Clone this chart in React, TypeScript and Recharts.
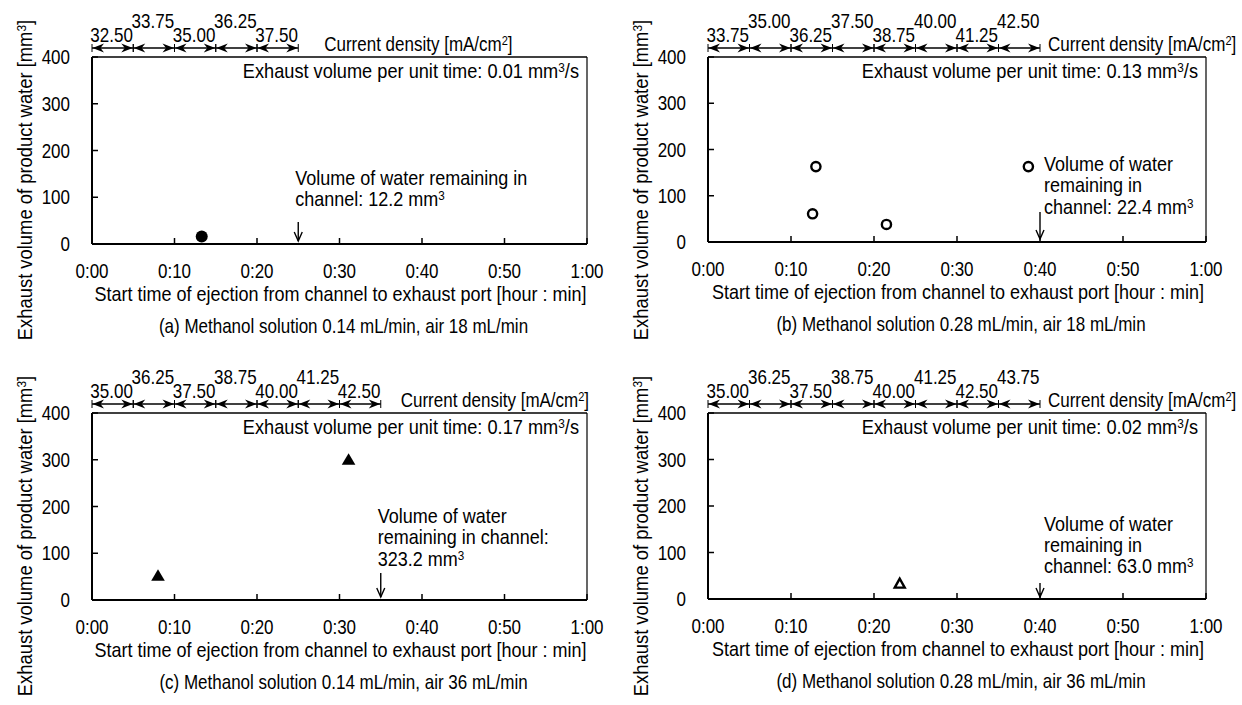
import React from 'react';
import { ScatterChart, Scatter, XAxis, YAxis, ReferenceLine, ReferenceDot } from 'recharts';

// ---------------- data ----------------
const TIME_TICKS = [0, 10, 20, 30, 40, 50, 60]; // minutes
const VOLUME_TICKS = [0, 100, 200, 300, 400];
const DENSITY_STEP_MIN = 5;

const A_TIME = [13.3];
const A_VOLUME = [16];
const B_TIME = [12.6, 13.0, 21.5, 38.6];
const B_VOLUME = [61, 163, 38, 163];
const C_TIME = [8.0, 31.1];
const C_VOLUME = [52, 300];
const D_TIME = [23.1];
const D_VOLUME = [33];

const A_DENSITY = ['32.50', '33.75', '35.00', '36.25', '37.50'];
const B_DENSITY = ['33.75', '35.00', '36.25', '37.50', '38.75', '40.00', '41.25', '42.50'];
const C_DENSITY = ['35.00', '36.25', '37.50', '38.75', '40.00', '41.25', '42.50'];
const D_DENSITY = ['35.00', '36.25', '37.50', '38.75', '40.00', '41.25', '42.50', '43.75'];

const EXHAUST_RATE = ['0.01', '0.13', '0.17', '0.02'];
const REMAIN_VOLUME = ['12.2', '22.4', '323.2', '63.0'];
const REMAIN_TIME = [25, 40, 35, 40];
const CAPTIONS = [
  '(a) Methanol solution 0.14 mL/min, air 18 mL/min',
  '(b) Methanol solution 0.28 mL/min, air 18 mL/min',
  '(c) Methanol solution 0.14 mL/min, air 36 mL/min',
  '(d) Methanol solution 0.28 mL/min, air 36 mL/min',
];
const REMAIN_LINES = [
  ['Volume of water remaining in', 'channel: {v} mm'],
  ['Volume of water', 'remaining in', 'channel: {v} mm'],
  ['Volume of water', 'remaining in channel:', '{v} mm'],
  ['Volume of water', 'remaining in', 'channel: {v} mm'],
];
const X_TITLE = 'Start time of ejection from channel to exhaust port [hour : min]';
const Y_TITLE = 'Exhaust volume of product water [mm';

// ---------------- styles ----------------
const FONT = '"Liberation Sans", Arial, Helvetica, sans-serif';
const FS = 20;
const SX = 0.85;
const Y_AXIS_W = 92;
const X_AXIS_H = 30;
const RIGHT_PAD = 30;

const fmtTime = (m: number) => `${Math.floor(m / 60)}:${String(Math.round(m % 60)).padStart(2, '0')}`;

function NText({ x, y, anchor = 'start', size = FS, sx = SX, rotate = 0, children }: any) {
  const t = `translate(${x},${y})${rotate ? ` rotate(${rotate})` : ''} scale(${sx},1)`;
  return (
    <text transform={t} x={0} y={0} textAnchor={anchor} fontSize={size} fontFamily={FONT} fill="#000">
      {children}
    </text>
  );
}

const filledCircle = (p: any) => <circle cx={p.cx} cy={p.cy} r={6} fill="#000" />;
const openCircle = (p: any) => (
  <circle cx={p.cx} cy={p.cy} r={4.6} fill="#fff" stroke="#000" strokeWidth={2.4} />
);
const filledTriangle = (p: any) => (
  <polygon
    points={`${p.cx},${p.cy - 6.5} ${p.cx - 6.8},${p.cy + 5} ${p.cx + 6.8},${p.cy + 5}`}
    fill="#000"
  />
);
const openTriangle = (p: any) => (
  <polygon
    points={`${p.cx},${p.cy - 5} ${p.cx - 5},${p.cy + 4} ${p.cx + 5},${p.cy + 4}`}
    fill="#fff"
    stroke="#000"
    strokeWidth={2.4}
    strokeLinejoin="miter"
  />
);

const PANELS = [
  {
    time: A_TIME, volume: A_VOLUME, density: A_DENSITY, marker: filledCircle,
    rate: EXHAUST_RATE[0], remain: REMAIN_VOLUME[0], remainTime: REMAIN_TIME[0], lines: REMAIN_LINES[0], caption: CAPTIONS[0],
    layout: { plotLeft: 92, plotRight: 587, plotTop: 57, plotBottom: 244, rowTop: 0, rowHeight: 352,
      densityGap: 26, remainDx: -3, baselines: [-59, -38], arrowTop: -22, arrowTip: -3 },
  },
  {
    time: B_TIME, volume: B_VOLUME, density: B_DENSITY, marker: openCircle,
    rate: EXHAUST_RATE[1], remain: REMAIN_VOLUME[1], remainTime: REMAIN_TIME[1], lines: REMAIN_LINES[1], caption: CAPTIONS[1],
    layout: { plotLeft: 708, plotRight: 1206, plotTop: 57, plotBottom: 242, rowTop: 0, rowHeight: 352,
      densityGap: 8, remainDx: 4, baselines: [-71, -50, -28], arrowTop: -30, arrowTip: -3 },
  },
  {
    time: C_TIME, volume: C_VOLUME, density: C_DENSITY, marker: filledTriangle,
    rate: EXHAUST_RATE[2], remain: REMAIN_VOLUME[2], remainTime: REMAIN_TIME[2], lines: REMAIN_LINES[2], caption: CAPTIONS[2],
    layout: { plotLeft: 92, plotRight: 587, plotTop: 413, plotBottom: 600, rowTop: 352, rowHeight: 353,
      densityGap: 20, remainDx: -3, baselines: [-77, -56, -34], arrowTop: -27, arrowTip: -3 },
  },
  {
    time: D_TIME, volume: D_VOLUME, density: D_DENSITY, marker: openTriangle,
    rate: EXHAUST_RATE[3], remain: REMAIN_VOLUME[3], remainTime: REMAIN_TIME[3], lines: REMAIN_LINES[3], caption: CAPTIONS[3],
    layout: { plotLeft: 708, plotRight: 1206, plotTop: 413, plotBottom: 599, rowTop: 352, rowHeight: 353,
      densityGap: 8, remainDx: 4, baselines: [-68, -47, -26], arrowTop: -16, arrowTip: -2 },
  },
];

function DensitySeg({ x1, y1, x2, label, high }: any) {
  const y = y1 - 9;
  const h = 12;
  const w = 4.5;
  return (
    <g>
      <line x1={x1} y1={y} x2={x2} y2={y} stroke="#000" strokeWidth={1.5} />
      <polygon points={`${x1 + 0.5},${y} ${x1 + h},${y - w} ${x1 + h - 3.5},${y} ${x1 + h},${y + w}`} fill="#000" />
      <polygon points={`${x2 - 0.5},${y} ${x2 - h},${y - w} ${x2 - h + 3.5},${y} ${x2 - h},${y + w}`} fill="#000" />
      <line x1={x1} y1={y - 4} x2={x1} y2={y + 4} stroke="#000" strokeWidth={1} />
      <line x1={x2} y1={y - 4} x2={x2} y2={y + 4} stroke="#000" strokeWidth={1} />
      <NText x={(x1 + x2) / 2 - 1} y={high ? y1 - 29 : y1 - 15} anchor="middle">
        {label}
      </NText>
    </g>
  );
}

function Panel({ cfg }: any) {
  const L = cfg.layout;
  const chartLeft = L.plotLeft - Y_AXIS_W;
  const width = L.plotRight - chartLeft + RIGHT_PAD;
  const margin = {
    top: L.plotTop - L.rowTop,
    right: RIGHT_PAD,
    left: 0,
    bottom: L.rowTop + L.rowHeight - L.plotBottom - X_AXIS_H,
  };
  const data = cfg.time.map((t: number, i: number) => ({ x: t, y: cfg.volume[i] }));
  const lastBoundary = cfg.density.length * DENSITY_STEP_MIN;

  const XTick = (p: any) => (
    <NText x={p.x} y={p.y} anchor="middle">
      {fmtTime(p.payload.value)}
    </NText>
  );
  const YTick = (p: any) => (
    <NText x={p.x} y={p.y + 7} anchor="end">
      {p.payload.value}
    </NText>
  );

  const XTitle = (lp: any) => {
    const vb = lp.viewBox || {};
    const cx = vb.x + vb.width / 2;
    return (
      <g>
        <NText x={cx + 1} y={vb.y + 57} anchor="middle" sx={0.9}>{X_TITLE}</NText>
        <NText x={cx + 4} y={vb.y + 89} anchor="middle">{cfg.caption}</NText>
      </g>
    );
  };
  const YTitle = (lp: any) => {
    const vb = lp.viewBox || {};
    const x = vb.x + vb.width - 67 + 7;
    const y = vb.y + 123;
    return (
      <NText x={x} y={y} anchor="middle" rotate={-90} sx={0.92}>
        {Y_TITLE}
        <tspan dy={-6} fontSize={13}>3</tspan>
        <tspan dy={6}>]</tspan>
      </NText>
    );
  };

  return (
    <div style={{ position: 'absolute', left: chartLeft, top: L.rowTop }}>
      <ScatterChart width={width} height={L.rowHeight} margin={margin}>
        <XAxis
          type="number"
          dataKey="x"
          domain={[0, 60]}
          ticks={TIME_TICKS}
          interval={0}
          height={X_AXIS_H}
          tickSize={-6}
          tickMargin={40}
          axisLine={{ stroke: '#000', strokeWidth: 2 }}
          tickLine={{ stroke: '#000', strokeWidth: 1.5 }}
          tick={XTick}
          label={{ content: XTitle }}
        />
        <YAxis
          type="number"
          dataKey="y"
          domain={[0, 400]}
          ticks={VOLUME_TICKS}
          interval={0}
          width={Y_AXIS_W}
          tickSize={-6}
          tickMargin={28}
          axisLine={{ stroke: '#000', strokeWidth: 2 }}
          tickLine={{ stroke: '#000', strokeWidth: 1.5 }}
          tick={YTick}
          label={{ content: YTitle }}
        />
        <ReferenceLine y={400} stroke="#000" strokeWidth={1.6} />
        <ReferenceLine x={60} stroke="#000" strokeWidth={1.2} />
        {cfg.density.map((label: string, i: number) => (
          <ReferenceLine
            key={'seg' + i}
            segment={[
              { x: i * DENSITY_STEP_MIN, y: 400 },
              { x: (i + 1) * DENSITY_STEP_MIN, y: 400 },
            ]}
            shape={(p: any) => <DensitySeg {...p} label={label} high={i % 2 === 1} />}
          />
        ))}
        <ReferenceDot
          x={lastBoundary}
          y={400}
          r={0}
          shape={(p: any) => (
            <NText x={p.cx + L.densityGap} y={p.cy - 6}>
              Current density [mA/cm<tspan dy={-6} fontSize={13}>2</tspan>
              <tspan dy={6}>]</tspan>
            </NText>
          )}
        />
        <ReferenceDot
          x={60}
          y={400}
          r={0}
          shape={(p: any) => (
            <NText x={p.cx - 8} y={p.cy + 21} anchor="end" sx={0.91}>
              Exhaust volume per unit time: {cfg.rate} mm<tspan dy={-6} fontSize={13}>3</tspan>
              <tspan dy={6}>/s</tspan>
            </NText>
          )}
        />
        <ReferenceDot
          x={cfg.remainTime}
          y={0}
          r={0}
          shape={(p: any) => {
            const ax = p.cx;
            const top = p.cy + L.arrowTop;
            const tip = p.cy + L.arrowTip;
            return (
              <g>
                <line x1={ax} y1={top} x2={ax} y2={tip} stroke="#000" strokeWidth={1.4} />
                <polyline
                  points={`${ax - 4},${tip - 9} ${ax},${tip} ${ax + 4},${tip - 9}`}
                  fill="none"
                  stroke="#000"
                  strokeWidth={1.4}
                />
                {cfg.lines.map((ln: string, k: number) => {
                  const isLast = k === cfg.lines.length - 1;
                  return (
                    <NText key={k} x={ax + L.remainDx} y={p.cy + L.baselines[k]} sx={0.9}>
                      {ln.replace('{v}', cfg.remain)}
                      {isLast ? <tspan dy={-6} fontSize={13}>3</tspan> : null}
                    </NText>
                  );
                })}
              </g>
            );
          }}
        />
        <Scatter data={data} isAnimationActive={false} shape={cfg.marker} />
      </ScatterChart>
    </div>
  );
}

export default function App() {
  return (
    <div
      style={{
        position: 'absolute',
        left: 0,
        top: 0,
        width: 1242,
        height: 705,
        background: '#fff',
        overflow: 'hidden',
      }}
    >
      {PANELS.map((cfg, i) => (
        <Panel key={i} cfg={cfg} />
      ))}
    </div>
  );
}
